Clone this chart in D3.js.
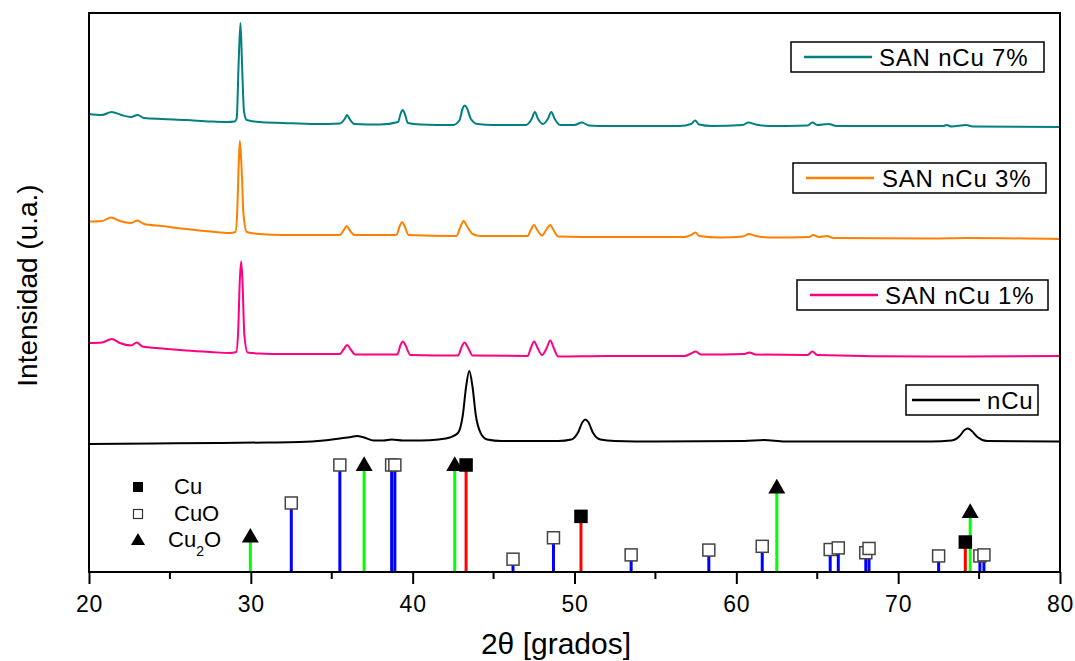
<!DOCTYPE html>
<html>
<head>
<meta charset="utf-8">
<script src="https://cdn.jsdelivr.net/npm/d3@7"></script>
<style>
  body { margin: 0; background: #fff; }
  text { font-family: "Liberation Sans", Arial, sans-serif; fill: #000; }
</style>
</head>
<body>
<div id="plotRegi"></div>
<script>
/* Data */
// XRD patterns, [2theta, intensity (a.u., offset)]
var san7 = [
    [20.0, 458], [20.8, 457], [21.4, 460], [22.0, 457], [22.6, 455], [23.0, 457], [23.4, 454],
    [24.5, 453], [26.0, 452], [27.5, 450.5], [28.5, 450], [29.0, 450.5], [29.13, 454], [29.24, 506],
    [29.36, 549], [29.46, 506], [29.58, 460], [29.75, 452], [30.5, 450], [32.0, 449], [34.0, 448],
    [35.5, 448.5], [35.8, 453], [35.95, 457], [36.1, 453], [36.4, 448], [38.0, 447.5], [39.1, 450],
    [39.25, 458], [39.38, 462], [39.52, 458], [39.7, 449], [40.5, 447.5], [42.5, 447], [42.9, 452],
    [43.1, 464], [43.22, 466.5], [43.35, 464], [43.6, 453], [44.0, 448], [45.0, 447], [47.0, 447],
    [47.35, 453], [47.55, 460], [47.75, 453], [48.05, 448], [48.35, 453], [48.57, 460], [48.78, 453],
    [49.1, 447], [50.0, 447], [50.45, 449.5], [50.9, 446.5], [52.0, 446], [56.5, 446], [57.2, 448],
    [57.45, 451.5], [57.7, 447.5], [58.5, 446], [60.4, 447], [60.75, 449.5], [61.2, 447.5], [62.0, 446],
    [64.4, 446.5], [64.7, 449.5], [65.0, 447], [65.7, 448], [66.2, 446], [72.8, 446], [73.0, 447],
    [73.3, 445.5], [74.2, 447], [74.6, 445.5], [80.0, 445]
]

var san3 = [
    [20.0, 350.5], [20.8, 351], [21.35, 354.5], [21.9, 351], [22.6, 349], [23.0, 351.5], [23.4, 348],
    [24.5, 346], [26.0, 343], [27.5, 340.5], [28.7, 339], [29.05, 340], [29.15, 357], [29.25, 407],
    [29.32, 431], [29.42, 407], [29.55, 357], [29.75, 340], [30.5, 338], [32.0, 337], [35.5, 337],
    [35.75, 342], [35.92, 346], [36.1, 342], [36.4, 337], [39.0, 337], [39.2, 346], [39.35, 350],
    [39.5, 346], [39.75, 337], [42.7, 336], [42.95, 345], [43.15, 351], [43.35, 346], [43.7, 338],
    [44.2, 336], [47.1, 336], [47.3, 342], [47.5, 347], [47.7, 342], [48.0, 336.5], [48.25, 342],
    [48.5, 347], [48.7, 342], [49.0, 335.5], [52.0, 335], [56.8, 335], [57.2, 337], [57.48, 339.5],
    [57.7, 336], [59.0, 334.5], [60.4, 335.5], [60.77, 338], [61.2, 336], [62.0, 334.5], [64.5, 335],
    [64.75, 337], [65.1, 335], [65.6, 336], [66.0, 334], [72.0, 333.5], [74.2, 334], [80.0, 333]
]

var san1 = [
    [20.0, 229], [20.8, 229.5], [21.4, 233], [21.9, 229], [22.6, 226.5], [22.95, 229.5], [23.3, 225.5],
    [24.5, 223.5], [26.0, 221.5], [27.5, 220], [28.7, 219], [29.1, 220], [29.22, 242], [29.32, 292],
    [29.4, 310.5], [29.48, 292], [29.6, 237], [29.8, 219.5], [30.5, 218.5], [32.0, 218], [35.5, 218],
    [35.75, 223], [35.95, 227], [36.15, 223], [36.45, 217.5], [39.05, 217.5], [39.25, 227], [39.4, 230.5],
    [39.55, 227], [39.85, 217], [42.8, 216.5], [43.05, 226], [43.2, 229.5], [43.4, 225], [43.7, 216.5],
    [47.1, 216], [47.3, 224], [47.5, 230.5], [47.72, 224], [48.0, 217], [48.28, 224], [48.5, 231.5],
    [48.72, 224], [49.0, 215.5], [52.0, 216], [56.8, 216], [57.2, 218.5], [57.5, 220.5], [57.8, 217.5],
    [60.5, 218], [60.8, 219.5], [61.2, 217.5], [64.4, 217], [64.7, 220.5], [65.0, 217], [72.0, 215.5],
    [80.0, 216]
]

var nCu = [
    [20.0, 128], [24.0, 128.5], [28.0, 129], [31.0, 129.5], [33.0, 130], [34.5, 131.5], [35.5, 133.5],
    [36.2, 135], [36.55, 136], [37.0, 134.5], [37.6, 131.5], [38.2, 131.5], [38.7, 132.5], [39.4, 131.5],
    [40.5, 131.5], [41.6, 132.5], [42.3, 134.5], [42.8, 139], [43.1, 157], [43.3, 185], [43.5, 201],
    [43.7, 185], [43.9, 157], [44.2, 139], [44.6, 132.5], [45.5, 131], [49.0, 131], [49.8, 132.5],
    [50.2, 139], [50.5, 150], [50.67, 152.5], [50.85, 150], [51.15, 139], [51.6, 132.5], [52.5, 131],
    [55.0, 130.5], [60.5, 131], [61.7, 132], [63.0, 130.5], [72.0, 130.5], [73.3, 131.5], [73.8, 136],
    [74.1, 142], [74.3, 143.5], [74.55, 141], [74.9, 135], [75.5, 131], [80.0, 130.5]
]

var seriesNames = ["SAN nCu 7%", "SAN nCu 3%", "SAN nCu 1%", "nCu"]
var seriesColors = ["#008080", "#FF8000", "#FF0080", "#000000"]

// Reference lines (2theta, relative intensity)
var cuPos = [43.3, 50.4, 74.15]
var cuInt = [100, 52, 28]
var cu2oPos = [29.97, 37.0, 42.6, 62.5, 74.45]
var cu2oInt = [33, 100, 100, 79, 56]
var cuoPos = [32.5, 35.5, 38.7, 38.9, 46.2, 48.7, 53.5, 58.3, 61.6, 65.8, 66.3, 68.0, 68.2, 72.5, 75.05, 75.3]
var cuoInt = [64.5, 100, 100, 100, 12, 32, 16, 20.5, 24, 21, 22.5, 18, 22, 15, 15, 16]

var xTicks = [20, 30, 40, 50, 60, 70, 80]
var xMinor = [25, 35, 45, 55, 65, 75]


/* Drawing */
var W = 1075, H = 661
var margin = { top: 13, right: 15, bottom: 89, left: 89 }
var width = W - margin.left - margin.right,
    height = H - margin.top - margin.bottom

var svg = d3
    .select("#plotRegi")
    .append("svg")
    .attr("width", W)
    .attr("height", H)

var canvas = svg
    .append("g")
    .attr("transform", "translate(" + margin.left + "," + margin.top + ")")

// Scales
var scale_x = d3.scaleLinear().domain([20, 80]).range([0, width])
var scale_y = d3.scaleLinear().domain([0, 559]).range([height, 0])
var scale_ref = d3.scaleLinear().domain([0, 100]).range([height, height - 107])

// Patterns
var line = d3.line()
    .x(d => scale_x(d[0]))
    .y(d => scale_y(d[1]))
    .curve(d3.curveMonotoneX)

var patterns = [san7, san3, san1, nCu]
patterns.forEach((p, i) => {
    canvas.append("path")
        .datum(p)
        .attr("d", line)
        .style("fill", "none")
        .style("stroke", seriesColors[i])
        .style("stroke-width", "2px")
        .style("stroke-linejoin", "round")
})

// Reference sticks
var refs = []
cuoPos.forEach((p, i) => refs.push({ pos: p, val: cuoInt[i], kind: "CuO" }))
cu2oPos.forEach((p, i) => refs.push({ pos: p, val: cu2oInt[i], kind: "Cu2O" }))
cuPos.forEach((p, i) => refs.push({ pos: p, val: cuInt[i], kind: "Cu" }))

var stickColor = { CuO: "#0000FF", Cu2O: "#00FF00", Cu: "#FF0000" }

var sticks = canvas.append("g").attr("id", "sticks")
sticks.selectAll("line")
    .data(refs)
    .enter()
    .append("line")
    .attr("x1", d => scale_x(d.pos))
    .attr("x2", d => scale_x(d.pos))
    .attr("y1", height)
    .attr("y2", d => scale_ref(d.val))
    .style("stroke", d => stickColor[d.kind])
    .style("stroke-width", "3px")

var sq = 12
sticks.selectAll("rect")
    .data(refs.filter(d => d.kind != "Cu2O"))
    .enter()
    .append("rect")
    .attr("x", d => scale_x(d.pos) - sq / 2)
    .attr("y", d => scale_ref(d.val) - sq / 2)
    .attr("width", sq)
    .attr("height", sq)
    .style("fill", d => d.kind == "Cu" ? "#000" : "#fff")
    .style("stroke", d => d.kind == "Cu" ? "#000" : "#444")
    .style("stroke-width", "1.5px")

sticks.selectAll("path")
    .data(refs.filter(d => d.kind == "Cu2O"))
    .enter()
    .append("path")
    .attr("d", d3.symbol(d3.symbolTriangle, 125))
    .attr("transform", d => "translate(" + scale_x(d.pos) + "," + (scale_ref(d.val) + 1) + ")")
    .style("fill", "#000")

// Frame
canvas.append("rect")
    .attr("width", width)
    .attr("height", height)
    .style("fill", "none")
    .style("stroke", "#000")
    .style("stroke-width", "2px")

// X axis
var axisX = canvas.append("g")
    .attr("transform", "translate(0," + height + ")")
    .call(d3.axisBottom(scale_x).tickValues(xTicks).tickSize(12).tickFormat(d3.format("d")))
axisX.select(".domain").remove()
axisX.selectAll("line").style("stroke-width", "2px")
axisX.selectAll("text")
    .attr("y", 40)
    .attr("dy", 0)
    .style("font-size", "23px")
    .style("letter-spacing", "0.8px")
    .style("font-family", "Liberation Sans, Arial, sans-serif")

canvas.append("g")
    .selectAll("line")
    .data(xMinor)
    .enter()
    .append("line")
    .attr("x1", d => scale_x(d))
    .attr("x2", d => scale_x(d))
    .attr("y1", height)
    .attr("y2", height + 7)
    .style("stroke", "#000")
    .style("stroke-width", "2px")

// Titles
svg.append("text")
    .attr("x", 556)
    .attr("y", 654)
    .attr("text-anchor", "middle")
    .style("font-size", "30px")
    .text("2θ [grados]")

svg.append("text")
    .attr("transform", "translate(37,285.5) rotate(-90)")
    .attr("text-anchor", "middle")
    .style("font-size", "28px")
    .text("Intensidad (u.a.)")

// Series legends
var legBoxes = [
    { x: 791, y: 42, w: 253, h: 30, lx: 804, tx: 879 },
    { x: 793, y: 163, w: 253, h: 30, lx: 806, tx: 882 },
    { x: 797, y: 280, w: 251, h: 30, lx: 810, tx: 885 },
    { x: 906, y: 385, w: 132, h: 30, lx: 912, tx: 987 }
]
legBoxes.forEach((b, i) => {
    var g = svg.append("g")
    g.append("rect")
        .attr("x", b.x).attr("y", b.y)
        .attr("width", b.w).attr("height", b.h)
        .style("fill", "#fff")
        .style("stroke", "#000")
        .style("stroke-width", "1.5px")
    g.append("line")
        .attr("x1", b.lx).attr("x2", b.lx + 68)
        .attr("y1", b.y + b.h / 2).attr("y2", b.y + b.h / 2)
        .style("stroke", seriesColors[i])
        .style("stroke-width", "2.5px")
    g.append("text")
        .attr("x", b.tx)
        .attr("y", b.y + b.h / 2 + 8.5)
        .style("font-size", "24px")
        .style("letter-spacing", "0.8px")
        .text(seriesNames[i])
})

// Phase legend
var phase = svg.append("g")
phase.append("rect")
    .attr("x", 133).attr("y", 482).attr("width", 10).attr("height", 10)
    .style("fill", "#000")
phase.append("rect")
    .attr("x", 133.5).attr("y", 509.5).attr("width", 9).attr("height", 9)
    .style("fill", "#fff").style("stroke", "#333").style("stroke-width", "1.2px")
phase.append("path")
    .attr("d", d3.symbol(d3.symbolTriangle, 85))
    .attr("transform", "translate(138,541)")
    .style("fill", "#000")

phase.append("text").attr("x", 174).attr("y", 494).style("font-size", "22px").text("Cu")
phase.append("text").attr("x", 174).attr("y", 521).style("font-size", "22px").text("CuO")
var cu2o = phase.append("text").attr("x", 168).attr("y", 547).style("font-size", "22px")
cu2o.append("tspan").text("Cu")
cu2o.append("tspan").attr("dy", 9).style("font-size", "14px").text("2")
cu2o.append("tspan").attr("dy", -9).text("O")
</script>
</body>
</html>
